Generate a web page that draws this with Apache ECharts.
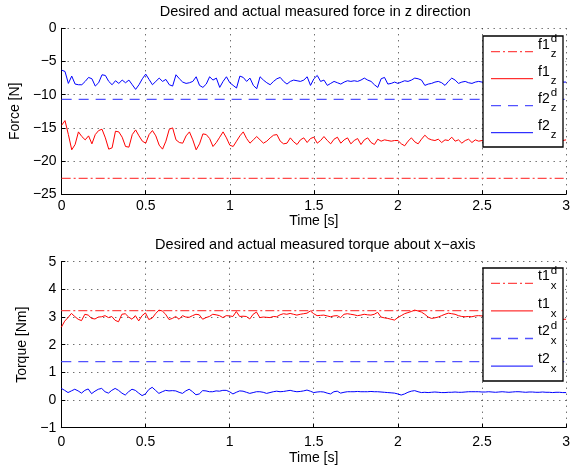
<!DOCTYPE html>
<html>
<head>
<meta charset="utf-8">
<script src="https://cdn.jsdelivr.net/npm/echarts@6/dist/echarts.min.js"></script>
<style>
html,body{margin:0;padding:0;background:#fff;}
#chart{width:573px;height:467px;}
</style>
</head>
<body>
<div id="chart"></div>
<script>
// ---- data ----
const dt = 0.02; // sampling step of the measured signals [s]
const xTicks = ['0', '0.5', '1', '1.5', '2', '2.5', '3'];

const f1zDesired = -22.6;
const f2zDesired = -10.7;
const t1xDesired = 3.23;
const t2xDesired = 1.39;

const f1z = [
  -14.6,-13.9,-16.0,-18.3,-17.5,-15.6,-16.3,-16.8,-16.2,-17.4,
  -16.0,-15.4,-15.2,-16.5,-18.2,-18.0,-15.5,-15.6,-16.4,-17.8,
  -17.9,-16.0,-15.3,-16.2,-17.0,-17.3,-16.0,-15.4,-16.2,-17.6,
  -18.2,-17.0,-15.2,-15.0,-16.8,-17.2,-17.3,-16.2,-15.6,-16.8,
  -18.3,-17.4,-15.9,-16.0,-16.6,-17.8,-17.2,-16.4,-15.6,-16.5,
  -17.6,-17.8,-17.0,-16.2,-15.6,-16.6,-17.3,-16.8,-16.3,-16.8,
  -17.3,-17.0,-16.5,-16.1,-16.0,-17.0,-17.4,-17.3,-16.5,-17.1,
  -17.5,-16.8,-16.5,-17.2,-16.6,-16.4,-17.3,-16.9,-16.3,-16.9,
  -17.4,-16.7,-16.4,-17.3,-16.8,-16.5,-17.4,-16.9,-16.6,-17.5,
  -16.8,-16.5,-17.2,-17.5,-16.7,-17.0,-16.8,-16.9,-17.0,-16.9,
  -16.9,-17.4,-17.7,-17.0,-16.5,-17.1,-17.4,-16.7,-16.1,-16.6,
  -16.8,-16.9,-16.7,-17.2,-16.8,-16.9,-16.4,-17.0,-16.8,-17.3,
  -16.9,-16.7,-17.2,-16.8,-17.0,-16.9,-17.1,-16.8,-17.0,-17.3,
  -16.9,-16.7,-17.0,-17.2,-16.9,-16.8,-17.1,-17.0,-16.8,-17.2,
  -17.0,-16.9,-17.1,-16.8,-17.0,-17.2,-16.9,-16.8,-17.0,-16.9,
  -16.8
];

const f2z = [
  -6.3,-6.5,-8.3,-7.2,-8.4,-8.5,-8.5,-8.0,-7.4,-7.6,
  -8.7,-8.2,-7.0,-7.1,-8.0,-8.5,-7.9,-8.3,-7.8,-8.2,
  -7.8,-8.5,-9.2,-8.5,-7.6,-6.9,-7.7,-8.5,-8.0,-7.5,
  -8.0,-7.7,-8.5,-8.7,-7.0,-7.6,-8.1,-8.3,-8.2,-8.0,
  -7.3,-8.6,-8.9,-8.4,-7.3,-7.8,-7.5,-8.9,-8.0,-7.3,
  -8.2,-8.6,-9.0,-7.2,-7.4,-8.0,-7.5,-8.6,-9.1,-7.3,
  -7.8,-8.2,-8.5,-8.0,-7.6,-7.4,-8.0,-8.4,-8.0,-7.8,
  -7.9,-8.0,-7.8,-7.3,-8.6,-7.6,-7.1,-8.0,-7.8,-8.6,
  -8.3,-8.0,-8.2,-8.4,-8.1,-7.9,-8.0,-7.9,-8.0,-7.8,
  -7.5,-7.8,-8.0,-8.5,-8.9,-7.6,-7.4,-8.4,-8.3,-8.1,
  -8.3,-8.1,-7.9,-8.0,-7.8,-7.5,-7.6,-7.8,-8.6,-8.4,
  -8.3,-8.1,-8.0,-8.2,-8.6,-8.0,-7.5,-7.8,-8.3,-8.1,
  -8.0,-8.2,-8.3,-8.1,-8.0,-8.1,-8.1,-8.3,-8.0,-8.2,
  -8.1,-7.9,-8.2,-8.0,-8.3,-8.1,-8.0,-8.2,-8.1,-7.9,
  -8.2,-8.0,-8.1,-8.3,-8.0,-8.1,-8.2,-8.0,-8.1,-8.1,
  -8.1
];

const t1x = [
  2.63,2.85,2.98,3.13,3.02,2.92,2.87,3.10,3.07,2.95,
  2.93,3.00,3.01,3.05,2.98,3.02,2.88,2.83,3.10,3.12,
  3.00,2.92,3.05,2.86,3.05,3.15,2.91,2.96,3.12,3.25,
  3.22,3.10,2.91,2.95,3.02,2.92,3.05,3.00,2.99,3.05,
  3.10,3.08,2.92,2.98,3.02,3.10,3.08,3.05,2.98,3.05,
  3.04,3.02,3.20,3.02,3.03,3.02,2.93,3.10,3.18,2.98,
  3.00,2.99,2.98,3.02,3.01,3.08,3.12,3.10,3.13,3.10,
  3.07,3.10,3.12,3.14,3.22,3.12,3.05,3.06,3.07,3.04,
  3.01,3.04,3.05,2.98,3.10,3.12,3.10,3.08,3.05,3.07,
  3.10,3.08,3.07,3.10,3.17,3.00,2.97,2.95,2.92,2.89,
  2.98,3.05,3.12,3.16,3.20,3.25,3.22,3.18,3.10,3.00,
  2.95,2.97,3.00,3.05,3.10,3.14,3.12,3.10,3.05,3.02,
  3.01,3.02,3.01,3.04,3.05,3.04,3.02,3.03,3.05,3.02,
  3.00,3.03,3.04,3.01,3.02,3.05,3.03,3.00,3.02,3.04,
  3.01,3.00,2.98,3.02,3.03,3.00,2.97,2.95,2.93,2.92,
  2.92
];

const t2x = [
  0.42,0.35,0.27,0.33,0.39,0.33,0.25,0.35,0.40,0.23,
  0.32,0.39,0.42,0.30,0.25,0.35,0.42,0.35,0.25,0.18,
  0.30,0.39,0.35,0.25,0.16,0.22,0.38,0.46,0.35,0.24,
  0.30,0.35,0.33,0.34,0.33,0.28,0.24,0.33,0.39,0.30,
  0.19,0.22,0.34,0.33,0.30,0.30,0.33,0.32,0.35,0.35,
  0.30,0.22,0.28,0.33,0.32,0.28,0.24,0.27,0.30,0.30,
  0.28,0.24,0.27,0.30,0.32,0.30,0.31,0.33,0.35,0.32,
  0.30,0.31,0.33,0.36,0.32,0.27,0.29,0.30,0.29,0.25,
  0.22,0.30,0.32,0.25,0.28,0.30,0.30,0.30,0.31,0.30,
  0.30,0.30,0.31,0.30,0.30,0.29,0.28,0.27,0.26,0.25,
  0.22,0.18,0.22,0.28,0.32,0.34,0.30,0.27,0.28,0.27,
  0.28,0.29,0.28,0.27,0.27,0.28,0.28,0.29,0.28,0.28,
  0.29,0.30,0.30,0.30,0.30,0.29,0.29,0.30,0.29,0.28,
  0.29,0.30,0.29,0.28,0.29,0.30,0.30,0.29,0.28,0.29,
  0.29,0.28,0.28,0.29,0.28,0.28,0.27,0.28,0.28,0.27,
  0.27
];

// ---- build ----
const RED = '#ff0000', BLUE = '#0000ff';
const RED_D = '#ff4a4a', BLUE_D = '#5252ff';
const tStart = 0, tEnd = 3;
function pairs(vals){ return vals.map((v,i)=>[+(i*dt).toFixed(3), v]); }
function flat(v){ return [[tStart, v],[tEnd, v]]; }
const minus = s => String(s).replace('-', '\u2212');

const chart = echarts.init(document.getElementById('chart'), null, {renderer:'canvas'});
const FONT = 'Liberation Sans, Arial, Helvetica, sans-serif';
const plotL = 61.3, plotW = 508, plotH = 166;
const topY = [28.3, 261.7];

function xAxisCfg(idx, margin, gap){
  return {
    gridIndex: idx, type:'value', min:0, max:3, interval:0.5,
    name:'Time [s]', nameLocation:'middle', nameGap:gap,
    nameTextStyle:{fontSize:14, color:'#000', fontFamily:FONT},
    axisLine:{show:true, onZero:false, lineStyle:{color:'#000', width:1}},
    axisTick:{show:true, inside:true, length:4, lineStyle:{color:'#000'}},
    axisLabel:{fontSize:14, color:'#000', margin:margin, fontFamily:FONT,
      formatter: v => xTicks[Math.round(v/0.5)]},
    splitLine:{show:true, lineStyle:{color:'#333', width:1, type:[1,5]}}
  };
}
function yAxisCfg(idx, name, min, max, interval, gap){
  return {
    gridIndex: idx, type:'value', min:min, max:max, interval:interval,
    name:name, nameLocation:'middle', nameGap:gap, nameRotate:90,
    nameTextStyle:{fontSize:14, color:'#000', fontFamily:FONT},
    axisLine:{show:true, onZero:false, lineStyle:{color:'#000', width:1}},
    axisTick:{show:true, inside:true, length:4, lineStyle:{color:'#000'}},
    axisLabel:{fontSize:14, color:'#000', margin:5, fontFamily:FONT, formatter: v => minus(v)},
    splitLine:{show:true, lineStyle:{color:'#333', width:1, type:[1,5]}}
  };
}
function line(name, data, color, type, idx, w){
  return {
    name:name, type:'line', xAxisIndex:idx, yAxisIndex:idx, data:data,
    showSymbol:false, symbol:'none', silent:true, animation:false,
    lineStyle:{color:color, width:w || 1, type:type}, itemStyle:{color:color}, clip:true
  };
}

// legend (drawn as graphic, MATLAB style with stacked super/subscripts)
function legendGraphic(boxX, boxY, boxW, boxH, firstLineY, step, entries){
  const els = [{type:'rect', shape:{x:boxX, y:boxY, width:boxW, height:boxH},
    style:{fill:'#fff', stroke:'#000', lineWidth:1.3}, z:100}];
  entries.forEach((e,i)=>{
    const y = firstLineY + i*step;
    els.push({type:'line', shape:{x1:boxX+8, y1:y, x2:boxX+50, y2:y},
      style:{stroke:e.color, lineWidth:e.w || 1, lineDash:e.dash}, z:101});
    els.push({type:'text', x:boxX+55, y:y-7, z:101,
      style:{text:e.base, fontSize:14, fontFamily:FONT, fill:'#000', textVerticalAlign:'middle', textAlign:'left'}});
    if (e.sup) els.push({type:'text', x:boxX+67.8, y:y-12.5, z:101,
      style:{text:e.sup, fontSize:11.5, fontFamily:FONT, fill:'#000', textVerticalAlign:'middle', textAlign:'left'}});
    els.push({type:'text', x:boxX+67.8, y:y+2.5, z:101,
      style:{text:e.sub, fontSize:11.5, fontFamily:FONT, fill:'#000', textVerticalAlign:'middle', textAlign:'left'}});
  });
  return els;
}

const DASHDOT = [9,3,2,3], DASH = [10,7];
const option = {
  backgroundColor:'#fff',
  animation:false,
  title:[
    {text:'Desired and actual measured force in z direction', left:plotL+plotW/2, top:4.5, textAlign:'center', padding:0,
      textStyle:{fontSize:14.5, fontWeight:'normal', color:'#000', fontFamily:FONT}},
    {text:'Desired and actual measured torque about x\u2212axis', left:plotL+plotW/2, top:237.5, textAlign:'center', padding:0,
      textStyle:{fontSize:14.5, fontWeight:'normal', color:'#000', fontFamily:FONT}}
  ],
  grid:[
    {left:plotL, top:topY[0], width:plotW, height:plotH},
    {left:plotL, top:topY[1], width:plotW, height:plotH}
  ],
  xAxis:[xAxisCfg(0, 5, 19), xAxisCfg(1, 7, 23)],
  yAxis:[yAxisCfg(0,'Force [N]',-25,0,5,36), yAxisCfg(1,'Torque [Nm]',-1,5,1,29)],
  series:[
    line('f1zd', flat(f1zDesired), RED_D, DASHDOT, 0, 1.3),
    line('f1z', pairs(f1z), RED, 'solid', 0),
    line('f2zd', flat(f2zDesired), BLUE_D, DASH, 0, 1.3),
    line('f2z', pairs(f2z), BLUE, 'solid', 0),
    line('t1xd', flat(t1xDesired), RED_D, DASHDOT, 1, 1.3),
    line('t1x', pairs(t1x), RED, 'solid', 1),
    line('t2xd', flat(t2xDesired), BLUE_D, DASH, 1, 1.3),
    line('t2x', pairs(t2x), BLUE, 'solid', 1)
  ],
  graphic: [].concat(
    legendGraphic(483, 36, 80, 111, 51.7, 27, [
      {base:'f1', sup:'d', sub:'z', color:RED_D, dash:DASHDOT, w:1.3},
      {base:'f1', sub:'z', color:RED, dash:null},
      {base:'f2', sup:'d', sub:'z', color:BLUE_D, dash:DASH, w:1.3},
      {base:'f2', sub:'z', color:BLUE, dash:null}
    ]),
    legendGraphic(483, 268, 80, 113, 283.3, 27.6, [
      {base:'t1', sup:'d', sub:'x', color:RED_D, dash:DASHDOT, w:1.3},
      {base:'t1', sub:'x', color:RED, dash:null},
      {base:'t2', sup:'d', sub:'x', color:BLUE_D, dash:DASH, w:1.3},
      {base:'t2', sub:'x', color:BLUE, dash:null}
    ])
  )
};
chart.setOption(option);
</script>
</body>
</html>
